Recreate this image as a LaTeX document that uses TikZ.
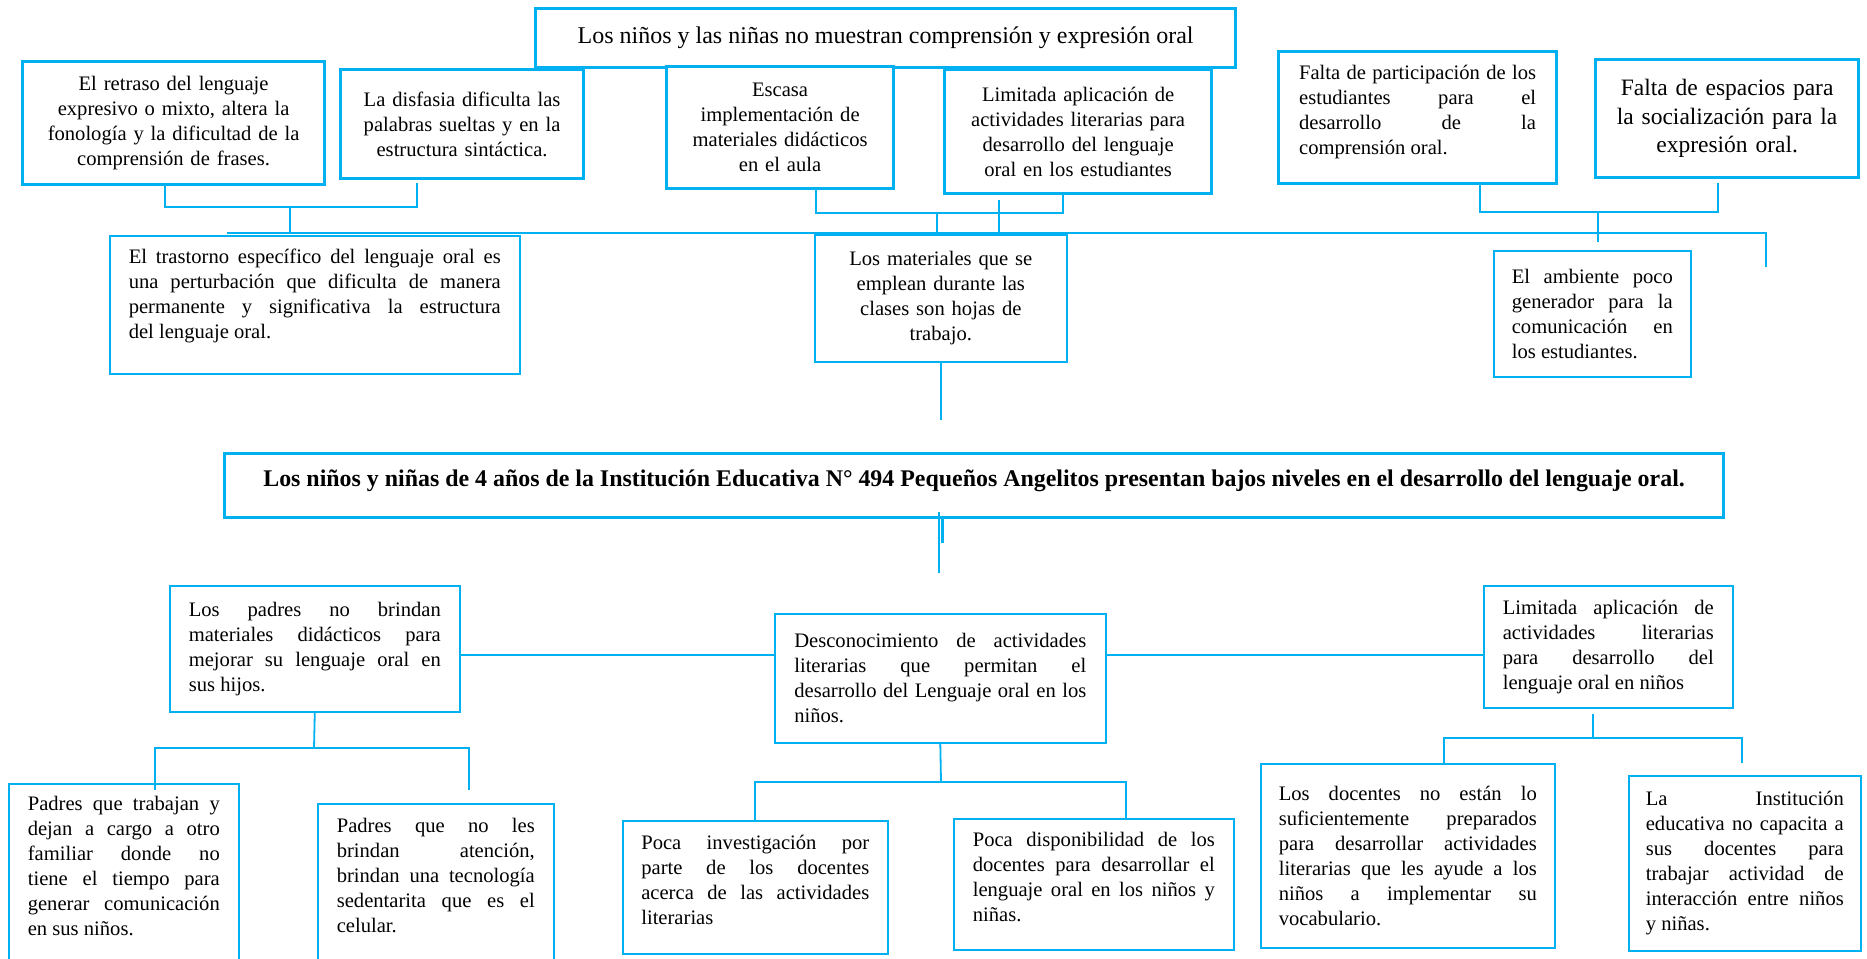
\documentclass[tikz,border=0pt]{standalone}
\usepackage{fontspec}
\setmainfont{Liberation Serif}
\definecolor{cielo}{RGB}{0,176,240}
\newcommand{\txt}{\fontsize{20.6}{25}\selectfont}
\newcommand{\txtbig}{\fontsize{24}{28.5}\selectfont}
\newcommand{\txtmid}{\fontsize{23.5}{28.5}\selectfont}
\newcommand{\txtbold}{\fontsize{23.9}{28}\selectfont\bfseries}
\newcommand{\colita}[1]{\rule[-#1]{0pt}{#1}}
\tolerance=9999
\hbadness=10000

\begin{document}
\begin{tikzpicture}[x=1pt,y=-1pt,
	caja/.style={rectangle, draw=cielo, fill=white, anchor=north west, inner sep=2pt, align=center, font=\txt},
	gruesa/.style={caja, line width=3.2pt},
	fina/.style={caja, line width=1.6pt},
	just/.style={align=justify},
	enlace/.style={draw=cielo, line width=1.8pt}]
	
	\useasboundingbox (0,0) rectangle (1867,958);
	
	\node[gruesa, minimum width=700, minimum height=59, font=\txtbig] (cabeza) at (534,7) {Los niños y las niñas no muestran comprensión y expresión oral};
	
	\node[gruesa, minimum width=302, minimum height=123, text width=290] (a1) at (21,60) {El retraso del lenguaje\\ expresivo o mixto, altera la\\ fonología y la dificultad de la\\ comprensión de frases.};
	\node[gruesa, minimum width=243, minimum height=109, text width=230] (a2) at (339,68) {La disfasia dificulta las\\ palabras sueltas y en la\\ estructura sintáctica.};
	\node[gruesa, minimum width=227, minimum height=122, text width=215] (c1) at (665,65) {Escasa\\ implementación de\\ materiales didácticos\\ en el aula};
	\node[gruesa, minimum width=267, minimum height=124, text width=255] (c2) at (943,68) {Limitada aplicación de\\ actividades literarias para\\ desarrollo del lenguaje\\ oral en los estudiantes};
	\node[gruesa, just, minimum width=278, minimum height=132, text width=237] (e1) at (1277,50) {Falta de participación de los\linebreak estudiantes para el\linebreak desarrollo de la\linebreak comprensión oral.\colita{16pt}};
	\node[gruesa, minimum width=263, minimum height=118, text width=250, font=\txtmid] (e2) at (1594,58) {Falta de espacios para\\ la socialización para la\\ expresión oral.};
	
	\node[fina, just, minimum width=410, minimum height=138, text width=372] (b) at (109,235) {El trastorno específico del lenguaje oral es\linebreak una perturbación que dificulta de manera\linebreak permanente y significativa la estructura\linebreak del lenguaje oral.\colita{22pt}};
	\node[fina, minimum width=252, minimum height=127, text width=240] (d) at (814,234) {Los materiales que se\\ emplean durante las\\ clases son hojas de\\ trabajo.};
	\node[fina, just, minimum width=197, minimum height=126, text width=161] (f) at (1493,250) {El ambiente poco\linebreak generador para la\linebreak comunicación en\linebreak los estudiantes.};
	
	\node[gruesa, minimum width=1499, minimum height=64, text depth=14pt, font=\txtbold] (problema) at (223,452) {Los niños y niñas de 4 años de la Institución Educativa N° 494 Pequeños Angelitos presentan bajos niveles en el desarrollo del lenguaje oral.};
	
	\node[fina, just, minimum width=290, minimum height=126, text width=252] (g1) at (169,585) {Los padres no brindan\linebreak materiales didácticos para\linebreak mejorar su lenguaje oral en\linebreak sus hijos.};
	\node[fina, just, minimum width=331, minimum height=129, text width=292] (g2) at (774,613) {Desconocimiento de actividades\linebreak literarias que permitan el\linebreak desarrollo del Lenguaje oral en los\linebreak niños.};
	\node[fina, just, minimum width=249, minimum height=122, text width=211] (g3) at (1483,585) {Limitada aplicación de\linebreak actividades literarias\linebreak para desarrollo del\linebreak lenguaje oral en niños};
	
	\node[fina, just, minimum width=230, inner ysep=12pt, text width=192] (h1) at (8,783) {Padres que trabajan y\linebreak dejan a cargo a otro\linebreak familiar donde no\linebreak tiene el tiempo para\linebreak generar comunicación\linebreak en sus niños.\colita{36pt}};
	\node[fina, just, minimum width=236, inner ysep=14pt, text width=198] (h2) at (317,803) {Padres que no les\linebreak brindan atención,\linebreak brindan una tecnología\linebreak sedentarita que es el\linebreak celular.\colita{40pt}};
	\node[fina, just, minimum width=265, minimum height=133, text width=228] (h3) at (622,820) {Poca investigación por\linebreak parte de los docentes\linebreak acerca de las actividades\linebreak literarias\colita{14pt}};
	\node[fina, just, minimum width=280, minimum height=131, text width=242] (h4) at (953,818) {Poca disponibilidad de los\linebreak docentes para desarrollar el\linebreak lenguaje oral en los niños y\linebreak niñas.\colita{14pt}};
	\node[fina, just, minimum width=294, minimum height=184, text width=258] (h5) at (1260,763) {Los docentes no están lo\linebreak suficientemente preparados\linebreak para desarrollar actividades\linebreak literarias que les ayude a los\linebreak niños a implementar su\linebreak vocabulario.};
	\node[fina, just, minimum width=232, minimum height=175, text width=198] (h6) at (1628,775) {La Institución\linebreak educativa no capacita a\linebreak sus docentes para\linebreak trabajar actividad de\linebreak interacción entre niños\linebreak y niñas.};
	
	\coordinate (busW) at (227,233);
	\coordinate (busE) at (1766,233);
	\coordinate (busEnd) at (1766,267);
	\coordinate (ajoin) at (290,207);
	\coordinate (a2f) at (417,183);
	\coordinate (cjoin) at (937,213);
	\coordinate (ctick) at (999,200);
	\coordinate (ejoin) at (1598,212);
	\coordinate (e2f) at (1718,183);
	\coordinate (dtail) at (940,420);
	\coordinate (ptop) at (939,512);
	\coordinate (ptail) at (939,573);
	\coordinate (pstub) at (942,543);
	\coordinate (gline) at (0,655);
	\coordinate (g1b) at (314,748);
	\coordinate (h1t) at (155,790);
	\coordinate (h2t) at (469,790);
	\coordinate (g2b) at (941,782);
	\coordinate (g3t) at (1593,714);
	\coordinate (g3b) at (1593,738);
	\coordinate (h5t) at (1444,763);
	\coordinate (h6t) at (1742,763);
	
	\draw[enlace] (busW) -- (busE) -- (busEnd);
	\draw[enlace] ([xshift=-9pt]a1.south) |- (ajoin) -| (a2f);
	\draw[enlace] (ajoin) -- (ajoin |- busW);
	\draw[enlace] ([xshift=35.5pt]c1.south) |- (cjoin) -| ([xshift=-15.5pt]c2.south);
	\draw[enlace] (cjoin) -- (cjoin |- d.north);
	\draw[enlace] (ctick) -- (ctick |- busW);
	\draw[enlace] ([xshift=62pt]e1.south) |- (ejoin) -| (e2f);
	\draw[enlace] (ejoin) -- ([yshift=-9pt]ejoin |- busW);
	\draw[enlace] (d.south) -- (d.south |- dtail);
	\draw[enlace] (ptop) -- (ptail);
	\draw[cielo, line width=3pt] (problema.south -| pstub) -- (pstub);
	
	\draw[enlace] (g1.east |- gline) -- (g2.west |- gline);
	\draw[enlace] (g2.east |- gline) -- (g3.west |- gline);
	
	\draw[enlace] (g1.south) -- (g1b);
	\draw[enlace] (h1t) |- (g1b) -| (h2t);
	\draw[enlace] (g2.south) -- (g2b);
	\draw[enlace] (h3.north) |- (g2b) -| ([xshift=32pt]h4.north);
	\draw[enlace] (g3t) -- (g3b);
	\draw[enlace] (h5t) |- (g3b) -| (h6t);
	
\end{tikzpicture}
\end{document}
